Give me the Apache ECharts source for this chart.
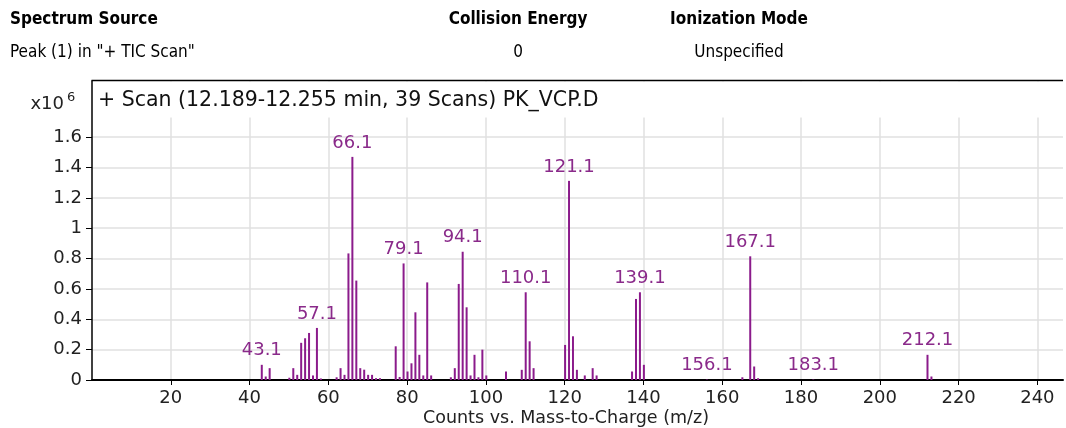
<!DOCTYPE html>
<html>
<head>
<meta charset="utf-8">
<script src="https://cdn.jsdelivr.net/npm/echarts@6/dist/echarts.min.js"></script>
<style>
  html, body { margin: 0; padding: 0; background: #fff; }
  #chart { width: 1066px; height: 428px; }
</style>
</head>
<body>
<div id="chart"></div>
<script>
// ---- data (intensities in units of 10^6 counts) ----
const mzValues = [43.1, 44.1, 45.1, 50.1, 51.1, 52.1, 53.1, 54.1, 55.1, 56.1, 57.1, 58.1,
  62.1, 63.1, 64.1, 65.1, 66.1, 67.1, 68.1, 69.1, 70.1, 71.1, 72.1, 73.1,
  77.1, 78.1, 79.1, 80.1, 81.1, 82.1, 83.1, 84.1, 85.1, 86.1,
  91.1, 92.1, 93.1, 94.1, 95.1, 96.1, 97.1, 98.1, 99.1, 100.1,
  105.1, 109.1, 110.1, 111.1, 112.1, 120.1, 121.1, 122.1, 123.1, 125.1, 127.1, 128.1,
  137.1, 138.1, 139.1, 140.1, 156.1, 165.1, 167.1, 168.1, 169.1, 183.1, 212.1, 213.1];
const intensities = [0.100, 0.023, 0.078, 0.015, 0.078, 0.034, 0.245, 0.275, 0.310, 0.030, 0.343, 0.010,
  0.018, 0.078, 0.034, 0.834, 1.470, 0.655, 0.078, 0.068, 0.034, 0.034, 0.012, 0.012,
  0.222, 0.020, 0.768, 0.056, 0.110, 0.446, 0.166, 0.030, 0.643, 0.030,
  0.018, 0.078, 0.633, 0.845, 0.479, 0.030, 0.166, 0.018, 0.200, 0.030,
  0.056, 0.067, 0.578, 0.255, 0.078, 0.231, 1.312, 0.288, 0.067, 0.030, 0.078, 0.030,
  0.056, 0.534, 0.578, 0.100, 0.003, 0.018, 0.815, 0.089, 0.012, 0.003, 0.166, 0.023];
const labeledPeaks = [43.1, 57.1, 66.1, 79.1, 94.1, 110.1, 121.1, 139.1, 156.1, 167.1, 183.1, 212.1];
const xTickValues = [20, 40, 60, 80, 100, 120, 140, 160, 180, 200, 220, 240];
const yTickValues = [0, 0.2, 0.4, 0.6, 0.8, 1, 1.2, 1.4, 1.6];

const headerLabels = ['Spectrum Source', 'Collision Energy', 'Ionization Mode'];
const headerValues = ['Peak (1) in "+ TIC Scan"', '0', 'Unspecified'];
const scanTitle = '+ Scan (12.189-12.255 min, 39 Scans) PK_VCP.D';
const xAxisTitle = 'Counts vs. Mass-to-Charge (m/z)';

// ---- chart ----
const PURPLE = '#8b1b8b';
const LABEL_PURPLE = '#8a2a8a';
const FONT = 'DejaVu Sans';
const HFONT = '"DejaVu Sans Condensed", "DejaVu Sans"';

const seriesData = mzValues.map((m, i) => {
  const item = { value: [m, intensities[i]] };
  if (labeledPeaks.indexOf(m) >= 0) item.label = { show: true };
  return item;
});

const chart = echarts.init(document.getElementById('chart'), null, { renderer: 'canvas' });
chart.setOption({
  animation: false,
  backgroundColor: '#ffffff',
  grid: { left: 92, right: 3, top: 81, bottom: 48, containLabel: false },
  xAxis: {
    type: 'value', min: 0, max: 246.5, interval: 20,
    axisLine: { show: true, onZero: false, lineStyle: { color: '#000', width: 2 } },
    axisTick: { show: true, length: 5, lineStyle: { color: '#000', width: 1 }, customValues: xTickValues },
    axisLabel: { color: '#222', fontFamily: FONT, fontSize: 18, margin: 9, customValues: xTickValues,
      formatter: v => (v <= 0 || v > 245) ? '' : String(v) },
    splitLine: { show: true, lineStyle: { color: '#e0e0e0', width: 1.5 } }
  },
  yAxis: {
    type: 'value', min: 0, max: 1.97, interval: 0.2,
    axisLine: { show: true, lineStyle: { color: '#000', width: 1.5 } },
    axisTick: { show: true, length: 6, lineStyle: { color: '#000', width: 1 }, customValues: yTickValues },
    axisLabel: { color: '#222', fontFamily: FONT, fontSize: 18, margin: 10, customValues: yTickValues,
      formatter: v => v > 1.7 ? '' : String(Math.round(v * 10) / 10) },
    splitLine: { show: true, lineStyle: { color: '#e0e0e0', width: 1.5 } }
  },
  series: [{
    type: 'bar',
    barWidth: 2,
    itemStyle: { color: PURPLE },
    label: {
      show: false, position: 'top', distance: 5,
      color: LABEL_PURPLE, fontFamily: FONT, fontSize: 18,
      formatter: p => p.value[0].toFixed(1)
    },
    data: seriesData,
    z: 3
  }],
  graphic: [
    { type: 'rect', shape: { x: 93, y: 81.5, width: 972, height: 36 }, style: { fill: '#fff' }, z: 50, silent: true },
    { type: 'rect', shape: { x: 80, y: 81.5, width: 11, height: 36 }, style: { fill: '#fff' }, z: 50, silent: true },
    { type: 'line', shape: { x1: 91.5, y1: 80.5, x2: 1063, y2: 80.5 }, style: { stroke: '#000', lineWidth: 1.5 }, z: 60, silent: true },
    { type: 'text', x: 98, y: 101, z: 60, style: { text: scanTitle, font: '20.5px ' + FONT, fill: '#111', textVerticalAlign: 'middle' } },
    { type: 'text', x: 64, y: 104, z: 60, style: { text: 'x10', font: '18px ' + FONT, fill: '#222', textAlign: 'right', textVerticalAlign: 'middle' } },
    { type: 'text', x: 67, y: 98, z: 60, style: { text: '6', font: '13px ' + FONT, fill: '#222', textAlign: 'left', textVerticalAlign: 'middle' } },
    { type: 'text', x: 566, y: 418, z: 60, style: { text: xAxisTitle, font: '17.5px ' + FONT, fill: '#222', textAlign: 'center', textVerticalAlign: 'middle' } },
    { type: 'text', x: 10, y: 20, z: 60, style: { text: headerLabels[0], font: 'bold 17px ' + HFONT, fill: '#000', textVerticalAlign: 'middle' } },
    { type: 'text', x: 518, y: 20, z: 60, style: { text: headerLabels[1], font: 'bold 17px ' + HFONT, fill: '#000', textAlign: 'center', textVerticalAlign: 'middle' } },
    { type: 'text', x: 739, y: 20, z: 60, style: { text: headerLabels[2], font: 'bold 17px ' + HFONT, fill: '#000', textAlign: 'center', textVerticalAlign: 'middle' } },
    { type: 'text', x: 10, y: 53, z: 60, style: { text: headerValues[0], font: '17px ' + HFONT, fill: '#000', textVerticalAlign: 'middle' } },
    { type: 'text', x: 518, y: 53, z: 60, style: { text: headerValues[1], font: '17px ' + HFONT, fill: '#000', textAlign: 'center', textVerticalAlign: 'middle' } },
    { type: 'text', x: 739, y: 53, z: 60, style: { text: headerValues[2], font: '17px ' + HFONT, fill: '#000', textAlign: 'center', textVerticalAlign: 'middle' } }
  ]
});
</script>
</body>
</html>
